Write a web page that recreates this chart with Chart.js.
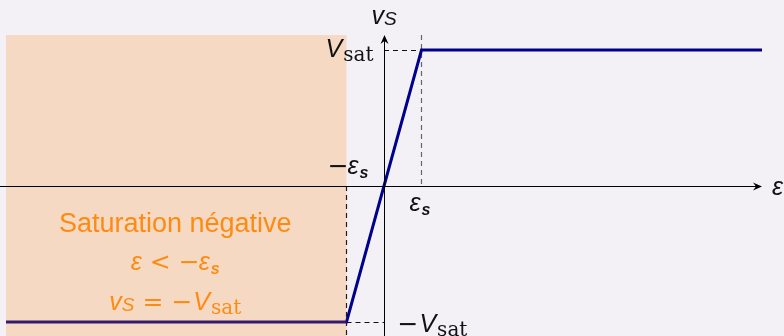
<!DOCTYPE html>
<html>
<head>
<meta charset="utf-8">
<script src="https://cdn.jsdelivr.net/npm/chart.js@4"></script>
<style>
    html, body { margin: 0; padding: 0; background: #f4f1f6; }
    #wrap { width: 784px; height: 336px; position: relative; }
</style>
</head>
<body>
<div id="wrap"><canvas id="satChart"></canvas></div>
<script>
// Transfer characteristic of a saturated amplifier: v_S as a function of epsilon
const epsValues = [-10.08, -1, 1, 10.08];
const vsValues = [-1, -1, 1, 1];

// reference ticks on the axes (epsilon_s, V_sat)
const epsTicks = [-1, 1];
const vsTicks = [-1, 1];

// negative saturation zone (epsilon range, v range)
const zoneEps = [-10.08, -1];
const zoneVs = [-1.2, 1.11];

// axis extents
const epsRange = [-10.24, 10.667];
const vsRange = [-1.103, 1.368];
const axisEnd = { eps: 10.08, vs: 1.11 };

const bgColor = '#f4f1f6';
const lineColor = '#00008b';
const orange = '#ff8a12';

// Draw a run of text pieces (font, text, dy) from a starting point
function drawRuns(ctx, runs, x, y, align, color) {
    ctx.save();
    ctx.fillStyle = color;
    ctx.textBaseline = 'alphabetic';
    ctx.textAlign = 'left';
    let total = 0;
    runs.forEach(r => {
        ctx.font = r.font;
        r.w = ctx.measureText(r.t).width + (r.gap || 0);
        total += r.w;
    });
    let cx = x;
    if (align === 'right') cx = x - total;
    if (align === 'center') cx = x - total / 2;
    runs.forEach(r => {
        ctx.font = r.font;
        ctx.fillText(r.t, cx, y + (r.dy || 0));
        cx += r.w;
    });
    ctx.restore();
}

const F_MATH = 'italic 25px "Liberation Sans"';
const F_SUB = 'italic bold 16px "Liberation Sans"';
const F_SAT = '20px "DejaVu Serif"';
const F_OP = '25px "DejaVu Sans"';

function Vsat(neg) {
    const runs = [];
    if (neg) runs.push({ t: '\u2212', font: F_OP, gap: 1 });
    runs.push({ t: 'V', font: F_MATH, gap: 1 });
    runs.push({ t: 'sat', font: F_SAT, dy: 4 });
    return runs;
}

function epsS(neg) {
    const runs = [];
    if (neg) runs.push({ t: '\u2212', font: F_OP, gap: -1 });
    runs.push({ t: '\u03b5', font: F_MATH, gap: 1 });
    runs.push({ t: 's', font: F_SUB, dy: 4 });
    return runs;
}

const backgroundPlugin = {
    id: 'bg',
    beforeDraw(chart) {
        const ctx = chart.ctx;
        ctx.save();
        ctx.fillStyle = bgColor;
        ctx.fillRect(0, 0, chart.width, chart.height);
        ctx.restore();
    }
};

const diagramPlugin = {
    id: 'diagram',
    beforeDatasetsDraw(chart) {
        const ctx = chart.ctx;
        const xs = chart.scales.x, ys = chart.scales.y;
        const x0 = xs.getPixelForValue(0), y0 = ys.getPixelForValue(0);

        // dashed guides
        ctx.save();
        ctx.lineWidth = 1.2;
        ctx.setLineDash([5, 4]);
        ctx.strokeStyle = '#111';
        const xn = Math.round(xs.getPixelForValue(epsTicks[0])) + 0.5;
        const xp = Math.round(xs.getPixelForValue(epsTicks[1])) + 0.5;
        const yn = Math.round(ys.getPixelForValue(vsTicks[0])) + 0.5;
        const yp = Math.round(ys.getPixelForValue(vsTicks[1])) + 0.5;
        ctx.beginPath();
        ctx.moveTo(xn, y0); ctx.lineTo(xn, chart.height);
        ctx.moveTo(xn, yn); ctx.lineTo(x0, yn);
        ctx.moveTo(x0, yp); ctx.lineTo(xp, yp);
        ctx.stroke();
        ctx.strokeStyle = '#666';
        ctx.beginPath();
        ctx.moveTo(xp, ys.getPixelForValue(axisEnd.vs)); ctx.lineTo(xp, y0);
        ctx.stroke();
        ctx.restore();
    },
    afterDatasetsDraw(chart) {
        const ctx = chart.ctx;
        const xs = chart.scales.x, ys = chart.scales.y;
        const x0 = Math.round(xs.getPixelForValue(0)) + 0.5;
        const y0 = Math.round(ys.getPixelForValue(0)) + 0.5;

        // shaded saturation zone (drawn over the curve)
        const zx1 = xs.getPixelForValue(zoneEps[0]);
        const zx2 = xs.getPixelForValue(zoneEps[1]);
        const zy1 = ys.getPixelForValue(zoneVs[1]);
        const zy2 = ys.getPixelForValue(zoneVs[0]);
        ctx.save();
        ctx.fillStyle = 'rgba(255, 128, 0, 0.21)';
        ctx.fillRect(zx1, zy1, zx2 - zx1, zy2 - zy1);
        ctx.restore();

        // axes with arrows
        const xEnd = xs.getPixelForValue(axisEnd.eps);
        const yEnd = ys.getPixelForValue(axisEnd.vs);
        ctx.save();
        ctx.strokeStyle = '#000';
        ctx.fillStyle = '#000';
        ctx.lineWidth = 1;
        ctx.beginPath();
        ctx.moveTo(0, y0); ctx.lineTo(xEnd - 2, y0);
        ctx.moveTo(x0, chart.height); ctx.lineTo(x0, yEnd + 2);
        ctx.stroke();
        ctx.beginPath();
        ctx.moveTo(xEnd, y0);
        ctx.lineTo(xEnd - 9, y0 - 4);
        ctx.lineTo(xEnd - 6, y0);
        ctx.lineTo(xEnd - 9, y0 + 4);
        ctx.closePath();
        ctx.fill();
        ctx.beginPath();
        ctx.moveTo(x0, yEnd);
        ctx.lineTo(x0 - 4, yEnd + 9);
        ctx.lineTo(x0, yEnd + 6);
        ctx.lineTo(x0 + 4, yEnd + 9);
        ctx.closePath();
        ctx.fill();
        ctx.restore();

        // axis labels
        drawRuns(ctx, [{ t: '\u03b5', font: F_MATH }], xEnd + 10, y0 + 8, 'left', '#111');
        drawRuns(ctx, [{ t: 'v', font: F_MATH }, { t: 'S', font: 'italic 19px "Liberation Sans"', dy: 1 }],
            x0 - 13, 24, 'left', '#111');

        // tick labels
        const xp = xs.getPixelForValue(epsTicks[1]);
        const yp = ys.getPixelForValue(vsTicks[1]);
        const yn = ys.getPixelForValue(vsTicks[0]);
        drawRuns(ctx, Vsat(false), x0 - 11, yp + 7, 'right', '#111');
        drawRuns(ctx, Vsat(true), x0 + 13, yn + 10, 'left', '#111');
        drawRuns(ctx, epsS(true), x0 - 16, y0 - 13, 'right', '#111');
        drawRuns(ctx, epsS(false), xp - 12, y0 + 24, 'left', '#111');

        // zone caption
        const cx = (zx1 + zx2) / 2 - 1;
        drawRuns(ctx, [{ t: 'Saturation n\u00e9gative', font: '27px "Liberation Sans"' }], cx, 232, 'center', orange);
        drawRuns(ctx, [
            { t: '\u03b5', font: F_MATH, gap: 8 },
            { t: '<', font: F_OP, gap: 8 },
            ...epsS(true)
        ], cx, 270, 'center', orange);
        drawRuns(ctx, [
            { t: 'v', font: F_MATH },
            { t: 'S', font: 'italic 19px "Liberation Sans"', dy: 1, gap: 8 },
            { t: '=', font: F_OP, gap: 8 },
            ...Vsat(true)
        ], cx, 310, 'center', orange);
    }
};

function initializeSaturationChart() {
    const ctx = document.getElementById('satChart');
    new Chart(ctx, {
        type: 'line',
        data: {
            datasets: [{
                data: epsValues.map((e, i) => ({ x: e, y: vsValues[i] })),
                borderColor: lineColor,
                borderWidth: 3,
                pointRadius: 0,
                tension: 0,
                fill: false
            }]
        },
        options: {
            responsive: true,
            maintainAspectRatio: false,
            animation: false,
            layout: { padding: 0 },
            scales: {
                x: { type: 'linear', min: epsRange[0], max: epsRange[1], display: false },
                y: { type: 'linear', min: vsRange[0], max: vsRange[1], display: false }
            },
            plugins: {
                legend: { display: false },
                tooltip: { enabled: false }
            }
        },
        plugins: [backgroundPlugin, diagramPlugin]
    });
}

document.addEventListener('DOMContentLoaded', initializeSaturationChart);
</script>
</body>
</html>
